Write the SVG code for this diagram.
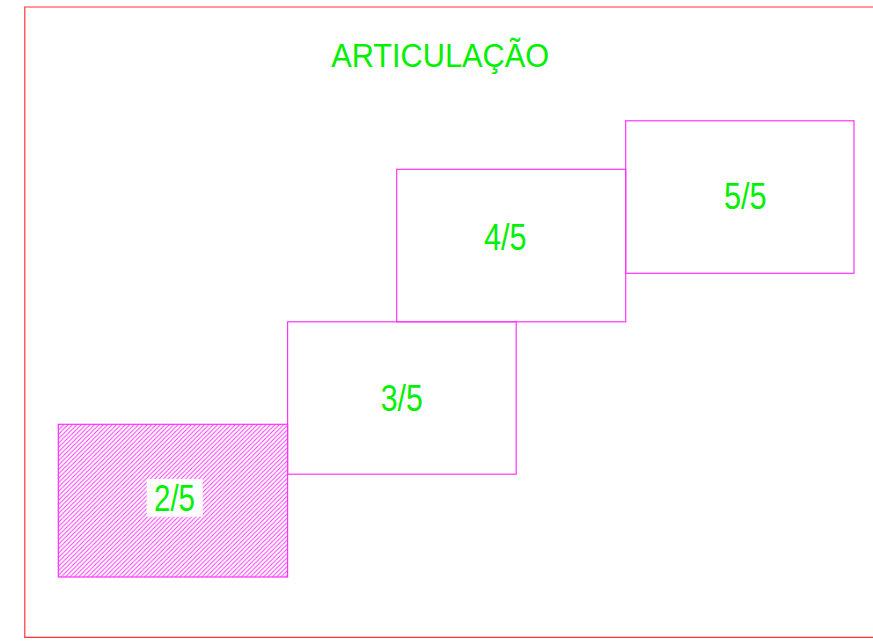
<svg xmlns="http://www.w3.org/2000/svg" width="873" height="643" viewBox="0 0 873 643">
  <defs>
    <pattern id="hatch" patternUnits="userSpaceOnUse" width="4.4" height="4.4">
      <path d="M-1.1,1.1 L1.1,-1.1 M0,4.4 L4.4,0 M3.3,5.5 L5.5,3.3" stroke="#ff33ff" stroke-width="1"/>
    </pattern>
  </defs>
  <style>
    .frame { fill: none; stroke: #ff3333; stroke-width: 1.2; }
    .box { fill: none; stroke: #ff33ff; stroke-width: 1.2; }
    .lbl { font-family: "Liberation Sans", Arial, sans-serif; font-size: 36px; fill: #00f000; text-anchor: middle; }
    .title { font-family: "Liberation Sans", Arial, sans-serif; font-size: 33.5px; fill: #00f000; text-anchor: middle; }
  </style>
  <rect width="873" height="643" fill="#ffffff"/>
  <path class="frame" d="M880,7 H24.8 V637.4 H880"/>
  <text class="title" x="440.2" y="67.3" textLength="218" lengthAdjust="spacingAndGlyphs">ARTICULAÇÃO</text>
  <g id="node-2-5">
    <rect x="58.3" y="424.3" width="229.3" height="152.7" fill="url(#hatch)"/>
    <rect class="box" x="58.3" y="424.3" width="229.3" height="152.7"/>
    <rect x="146.7" y="479" width="56" height="37.7" fill="#ffffff"/>
    <text class="lbl" x="174.5" y="511" textLength="41" lengthAdjust="spacingAndGlyphs">2/5</text>
  </g>
  <g id="node-3-5">
    <rect class="box" x="287.6" y="321.8" width="228.6" height="152.4"/>
    <text class="lbl" x="401.7" y="410.7" textLength="42" lengthAdjust="spacingAndGlyphs">3/5</text>
  </g>
  <g id="node-4-5">
    <rect class="box" x="396.7" y="169.3" width="229" height="152.5"/>
    <text class="lbl" x="505.3" y="250" textLength="42.5" lengthAdjust="spacingAndGlyphs">4/5</text>
  </g>
  <g id="node-5-5">
    <rect class="box" x="625.7" y="120.8" width="228.3" height="152.5"/>
    <text class="lbl" x="745.3" y="208.7" textLength="42.7" lengthAdjust="spacingAndGlyphs">5/5</text>
  </g>
</svg>
